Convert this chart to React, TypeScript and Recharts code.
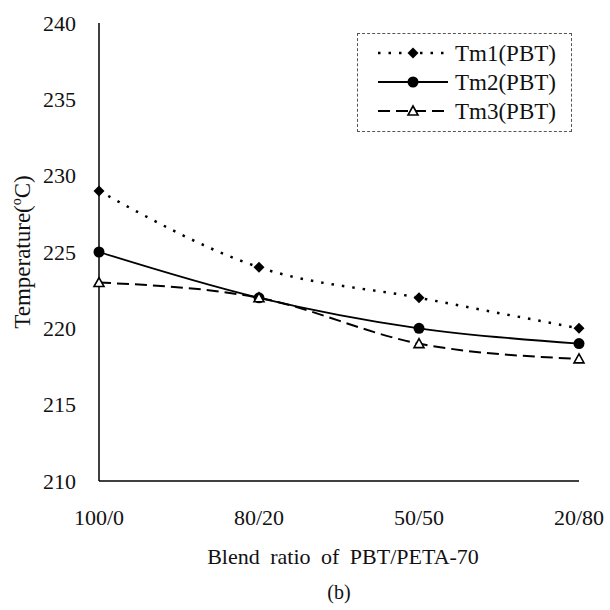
import { Legend, Line, LineChart, XAxis, YAxis } from "recharts"

const categories = ["100/0", "80/20", "50/50", "20/80"]
const tm1 = [229, 224, 222, 220]
const tm2 = [225, 222, 220, 219]
const tm3 = [223, 222, 219, 218]
const yTicks = [210, 215, 220, 225, 230, 235, 240]

const data = categories.map((ratio, i) => ({ ratio, tm1: tm1[i], tm2: tm2[i], tm3: tm3[i] }))

const FONT = '"Liberation Serif", "Times New Roman", Times, serif'

type Kind = "diamond" | "circle" | "triangle"

const series: { key: string; name: string; kind: Kind; dash?: string; width: number }[] = [
  { key: "tm1", name: "Tm1(PBT)", kind: "diamond", dash: "2.5 8", width: 2.5 },
  { key: "tm2", name: "Tm2(PBT)", kind: "circle", width: 1.8 },
  { key: "tm3", name: "Tm3(PBT)", kind: "triangle", dash: "12 6", width: 2 },
]

function Marker({ kind, cx, cy }: { kind: Kind; cx?: number; cy?: number }) {
  if (cx == null || cy == null) return null
  if (kind === "diamond") {
    const s = 5.5
    return <polygon points={`${cx},${cy - s} ${cx + s},${cy} ${cx},${cy + s} ${cx - s},${cy}`} fill="#000" />
  }
  if (kind === "circle") return <circle cx={cx} cy={cy} r={5.5} fill="#000" />
  return (
    <polygon
      points={`${cx},${cy - 5} ${cx + 5},${cy + 4} ${cx - 5},${cy + 4}`}
      fill="#fff"
      stroke="#000"
      strokeWidth={1.6}
    />
  )
}

function XTick(props: any) {
  const { x, y, payload } = props
  return (
    <text x={x} y={y} dy={36} textAnchor="middle" fontFamily={FONT} fontSize={22} fill="#111">
      {payload.value}
    </text>
  )
}

function YTick(props: any) {
  const { x, y, payload } = props
  return (
    <text x={x - 15} y={y} dy="0.35em" textAnchor="end" fontFamily={FONT} fontSize={22} fill="#111">
      {payload.value}
    </text>
  )
}

function XTitle(props: any) {
  const vb = props.viewBox
  const cx = vb.x + vb.width / 2
  return (
    <g fontFamily={FONT} fill="#111" textAnchor="middle">
      <text x={cx + 4} y={vb.y + 83} fontSize={22} wordSpacing={5}>
        Blend ratio of PBT/PETA-70
      </text>
      <text x={cx} y={vb.y + 118} fontSize={20}>
        (b)
      </text>
    </g>
  )
}

function YTitle(props: any) {
  const vb = props.viewBox
  const cx = 22
  const cy = vb.y + vb.height / 2
  return (
    <text
      x={cx}
      y={cy}
      dy="0.35em"
      transform={`rotate(-90, ${cx}, ${cy})`}
      textAnchor="middle"
      fontFamily={FONT}
      fontSize={23}
      fill="#111"
    >
      Temperature(
      <tspan fontSize={14} dy={-9}>
        o
      </tspan>
      <tspan dy={9}>C)</tspan>
    </text>
  )
}

function LegendBox() {
  return (
    <div
      style={{
        width: 215,
        height: 99,
        border: "1px dashed #555",
        boxSizing: "border-box",
        background: "#fff",
      }}
    >
      <svg width={213} height={97} style={{ display: "block" }}>
        {series.map((s, i) => {
          const y = 19 + i * 29
          return (
            <g key={s.key}>
              <line x1={20} x2={90} y1={y} y2={y} stroke="#000" strokeWidth={s.width} strokeDasharray={s.dash} />
              <Marker kind={s.kind} cx={55} cy={y} />
              <text x={97} y={y} dy="0.35em" fontFamily={FONT} fontSize={23} fill="#111">
                {s.name}
              </text>
            </g>
          )
        })}
      </svg>
    </div>
  )
}

export default function App() {
  return (
    <div style={{ position: "absolute", left: 0, top: 0, background: "#fff" }}>
      <LineChart width={610} height={610} data={data} margin={{ top: 23, right: 31, bottom: 69, left: 0 }}>
        <XAxis
          dataKey="ratio"
          height={60}
          tickLine={false}
          axisLine={{ stroke: "#000", strokeWidth: 1.5 }}
          tick={<XTick />}
          interval={0}
          label={{ content: XTitle }}
        />
        <XAxis
          xAxisId="top"
          dataKey="ratio"
          orientation="top"
          height={0}
          tick={false}
          tickLine={false}
          axisLine={{ stroke: "#000", strokeWidth: 1.5 }}
        />
        <YAxis
          width={99}
          domain={[210, 240]}
          ticks={yTicks}
          interval={0}
          tickLine={false}
          axisLine={{ stroke: "#000", strokeWidth: 1.5 }}
          tick={<YTick />}
          label={{ content: YTitle }}
        />
        <YAxis
          yAxisId="right"
          orientation="right"
          width={0}
          domain={[210, 240]}
          tick={false}
          tickLine={false}
          axisLine={{ stroke: "#000", strokeWidth: 1.5 }}
        />
        <Legend
          layout="vertical"
          align="center"
          verticalAlign="middle"
          wrapperStyle={{ top: 33, left: 357, width: 215, height: 99 }}
          content={() => <LegendBox />}
        />
        {series.map((s) => (
          <Line
            key={s.key}
            type="monotone"
            dataKey={s.key}
            name={s.name}
            stroke="#000"
            strokeWidth={s.width}
            strokeDasharray={s.dash}
            isAnimationActive={false}
            dot={(p: any) => <Marker key={`${s.key}-${p.index}`} kind={s.kind} cx={p.cx} cy={p.cy} />}
            activeDot={false}
          />
        ))}
      </LineChart>
    </div>
  )
}
